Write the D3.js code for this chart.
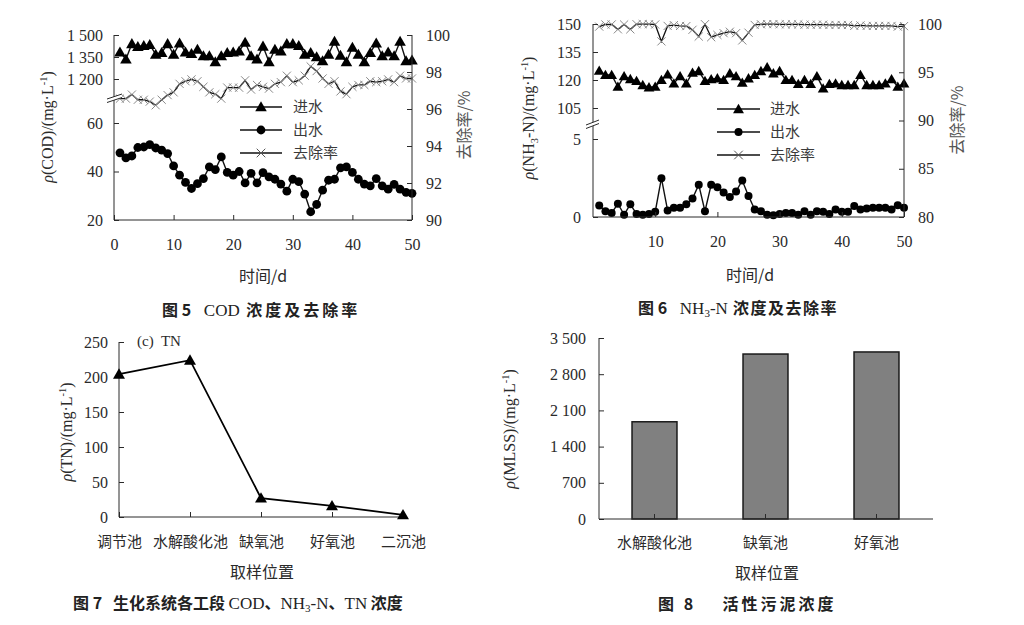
<!DOCTYPE html>
<html><head><meta charset="utf-8">
<script src="https://cdn.jsdelivr.net/npm/d3@7"></script>
<style>
body{margin:0;background:#fff;}
text{white-space:pre;}
</style></head><body>
<svg id="c" width="1024" height="625"></svg>
<script>
// ---------------- DATA ----------------
const days = d3.range(1, 51);
const codInfluent = [1383,1335,1440,1420,1427,1434,1368,1379,1440,1368,1445,1383,1372,1401,1357,1357,1317,1357,1379,1383,1390,1450,1357,1335,1423,1317,1401,1390,1440,1440,1427,1368,1379,1350,1324,1368,1456,1361,1317,1416,1368,1317,1379,1445,1357,1383,1357,1456,1324,1328];
const codEffluent = [47.7,45.6,46.4,49.9,50.1,51.1,49.7,48.8,47.4,42.3,38.5,35.5,33.0,35.0,37.1,41.9,40.8,46.0,39.6,38.5,40.0,35.3,39.2,35.3,39.5,37.8,36.8,34.8,31.9,36.8,35.8,30.7,23.4,26.4,32.3,36.4,36.8,41.5,41.9,39.6,36.8,34.8,34.1,37.1,34.1,32.7,34.7,32.7,31.4,31.0];
const codRemoval = [96.56,96.56,96.78,96.5,96.5,96.4,96.2,96.5,96.75,96.9,97.36,97.5,97.6,97.5,97.2,96.9,96.8,96.56,97.16,97.16,97.15,97.55,97.05,97.3,97.2,97.1,97.36,97.45,97.8,97.45,97.55,97.8,98.3,98.05,97.65,97.36,97.5,96.95,96.8,97.2,97.3,97.3,97.5,97.45,97.5,97.6,97.45,97.8,97.65,97.65];

const nhInfluent = [125,122.7,122.7,116.4,122.1,120.5,119.5,117.3,116.1,116.4,120,123,118.2,122.1,118.2,123.9,124.8,119.5,120.4,120.9,120,123.6,122.1,118.6,120.9,122.7,124.8,126.8,123.6,124.8,120,120,117.9,120,117.9,122.1,115.5,117.9,118.2,117.3,117.3,117.3,122.7,117.3,117.3,117.3,118.2,120.4,116.4,118.2];
const nhEffluent = [0.74,0.37,0.26,0.85,0.15,0.81,0.2,0.15,0.2,0.33,2.49,0.41,0.59,0.59,0.81,1.18,2.07,0.37,2.07,1.9,1.57,1.29,1.64,2.34,1.35,0.48,0.37,0.15,0.11,0.2,0.26,0.26,0.15,0.37,0.15,0.37,0.33,0.2,0.48,0.33,0.33,0.7,0.48,0.55,0.59,0.59,0.59,0.48,0.76,0.59];
const nhRemoval = [99.73,99.95,99.95,99.45,99.95,99.45,99.98,99.99,99.98,99.95,98.2,99.8,99.88,99.8,99.78,99.4,98.7,99.98,98.63,98.87,99.05,99.2,99.05,98.3,99.1,99.9,99.97,99.99,99.99,99.97,99.96,99.96,99.96,99.93,99.93,99.93,99.93,99.9,99.9,99.9,99.9,99.8,99.85,99.8,99.8,99.8,99.8,99.8,99.73,99.78];

const tnCategories = ["调节池","水解酸化池","缺氧池","好氧池","二沉池"];
const tnValues = [204,224,27,16,3];

const mlssCategories = ["水解酸化池","缺氧池","好氧池"];
const mlssValues = [1880,3190,3230];

const codTicksHigh = [1200,1350,1500];
const codTicksLow = [20,40,60];
const codTicksRight = [90,92,94,96,98,100];
const codTicksX = [0,10,20,30,40,50];
const nhTicksHigh = [105,120,135,150];
const nhTicksLow = [0,5];
const nhTicksRight = [80,85,90,95,100];
const nhTicksX = [10,20,30,40,50];
const tnTicks = [0,50,100,150,200,250];
const mlssTicks = [0,700,1400,2100,2800,3500];
const legendLabels = ["进水","出水","去除率"];

// ---------------- HELPERS ----------------
const SERIF = '"Liberation Serif","Times New Roman",serif';
const CJK = '"Noto Sans CJK SC","Noto Sans CJK JP",sans-serif';
const INK = "#2a2a2a";
const TICK_FS = 16;
const svg = d3.select("#c");
const fmt = d => d >= 1000 ? d3.format(",")(d).replace(",", " ") : String(d);

function styleAxis(g, size) {
  g.selectAll("path.domain").remove();
  g.selectAll(".tick line").attr("stroke", INK).attr("stroke-width", 1);
  g.selectAll("text").attr("font-family", SERIF).attr("font-size", size || TICK_FS).attr("fill", INK);
}
function rich(textSel, parts, fs) {
  parts.forEach(p => {
    const t = textSel.append("tspan").text(p.t);
    if (p.i) t.attr("font-style", "italic");
    if (p.cjk) t.attr("font-family", CJK);
    if (p.sub) t.attr("font-size", fs * 0.65).attr("dy", fs * 0.25);
    if (p.sup) t.attr("font-size", fs * 0.65).attr("dy", -fs * 0.4);
    if (p.back) t.attr("dy", p.back);
  });
}
function vline(x, y1, y2) {
  svg.append("line").attr("x1", x).attr("x2", x).attr("y1", y1).attr("y2", y2).attr("stroke", INK).attr("stroke-width", 1);
}
function hline(y, x1, x2) {
  svg.append("line").attr("x1", x1).attr("x2", x2).attr("y1", y).attr("y2", y).attr("stroke", INK).attr("stroke-width", 1);
}
const tri = s => d3.symbol(d3.symbolTriangle, s)();
const cross = s => d3.symbol(d3.symbolTimes, s)();

function seriesLine(g, xs, data, x, y, w) {
  g.append("path").datum(data.map((v, i) => [xs[i], v]))
    .attr("fill", "none").attr("stroke", "#111").attr("stroke-width", w)
    .attr("d", d3.line().x(d => x(d[0])).y(d => y(d[1])));
}
function triMarks(g, xs, data, x, y, s) {
  g.selectAll(null).data(data).enter().append("path").attr("d", tri(s))
    .attr("transform", (d, i) => `translate(${x(xs[i])},${y(d) + 1})`).attr("fill", "#000");
}
function dotMarks(g, xs, data, x, y, r) {
  g.selectAll(null).data(data).enter().append("circle")
    .attr("cx", (d, i) => x(xs[i])).attr("cy", d => y(d)).attr("r", r).attr("fill", "#000");
}
function crossMarks(g, xs, data, x, y, s) {
  g.selectAll(null).data(data).enter().append("path").attr("d", cross(s))
    .attr("transform", (d, i) => `translate(${x(xs[i])},${y(d)})`)
    .attr("fill", "none").attr("stroke", "#8a8a8a").attr("stroke-width", 1);
}
function legend(x0, x1, tx, ys, triS, dotR, crossS) {
  const g = svg.append("g");
  ys.forEach((yy, k) => {
    g.append("line").attr("x1", x0).attr("x2", x1).attr("y1", yy).attr("y2", yy).attr("stroke", "#111").attr("stroke-width", 1.4);
    const cxm = (x0 + x1) / 2;
    if (k === 0) g.append("path").attr("d", tri(triS)).attr("transform", `translate(${cxm},${yy + 1})`).attr("fill", "#000");
    if (k === 1) g.append("circle").attr("cx", cxm).attr("cy", yy).attr("r", dotR).attr("fill", "#000");
    if (k === 2) g.append("path").attr("d", cross(crossS)).attr("transform", `translate(${cxm},${yy})`).attr("fill", "none").attr("stroke", "#555").attr("stroke-width", 1);
    g.append("text").attr("x", tx).attr("y", yy).attr("dy", "0.36em").attr("font-family", CJK)
      .attr("font-size", 15).attr("fill", "#3a3a3a").text(legendLabels[k]);
  });
}
function breakMark(x1, y1, x2, y2, gap) {
  svg.append("polygon").attr("points", `${x1},${y1} ${x2},${y2} ${x2},${y2 + gap} ${x1},${y1 + gap}`).attr("fill", "#fff");
  [0, gap].forEach(o => svg.append("line").attr("x1", x1).attr("y1", y1 + o).attr("x2", x2).attr("y2", y2 + o).attr("stroke", INK).attr("stroke-width", 1));
}
function caption(x, y, parts) {
  const t = svg.append("text").attr("x", x).attr("y", y).attr("font-family", CJK).attr("font-weight", 700)
    .attr("font-size", 16).attr("fill", "#222");
  parts.forEach(p => {
    const s = t.append("tspan").text(p.t);
    if (p.serif) s.attr("font-family", SERIF).attr("font-weight", 400).attr("font-size", 17);
    if (p.sub) s.attr("font-size", 11).attr("dy", 3);
    if (p.back) s.attr("dy", p.back);
    if (p.ls) s.attr("letter-spacing", p.ls);
  });
}
function yLabel(x, y, parts, fs, color) {
  const t = svg.append("text").attr("transform", `translate(${x},${y}) rotate(-90)`).attr("text-anchor", "middle")
    .attr("font-family", SERIF).attr("font-size", fs).attr("fill", color || INK);
  rich(t, parts, fs);
}
function xLabel(x, y, txt) {
  svg.append("text").attr("x", x).attr("y", y).attr("text-anchor", "middle").attr("dy", "0.36em")
    .attr("font-family", CJK).attr("font-size", 16).attr("fill", INK).text(txt);
}

// ---------------- FIG 5 : COD ----------------
{
  const x = d3.scaleLinear().domain([0, 50]).range([114, 412]);
  const yLow = d3.scaleLinear().domain([20, 60]).range([220, 123]);
  const yHigh = d3.scaleLinear().domain([1200, 1500]).range([79, 35]);
  const yR = d3.scaleLinear().domain([90, 100]).range([220, 35]);
  const g = svg.append("g");
  styleAxis(svg.append("g").attr("transform", `translate(${x(0)},0)`).call(d3.axisLeft(yHigh).tickValues(codTicksHigh).tickFormat(fmt).tickSize(-5).tickPadding(11)));
  styleAxis(svg.append("g").attr("transform", `translate(${x(0)},0)`).call(d3.axisLeft(yLow).tickValues(codTicksLow).tickFormat(fmt).tickSize(-5).tickPadding(11)));
  styleAxis(svg.append("g").attr("transform", `translate(${x(50)},0)`).call(d3.axisRight(yR).tickValues(codTicksRight).tickFormat(fmt).tickSize(-5).tickPadding(14)));
  styleAxis(svg.append("g").attr("transform", `translate(0,${yLow(20)})`).call(d3.axisBottom(x).tickValues(codTicksX).tickFormat(fmt).tickSize(-5).tickPadding(19)));
  vline(x(0), yHigh(1500), yLow(20));
  vline(x(50), yR(100), yR(90));
  hline(yLow(20), x(0), x(50));
  breakMark(107, 99, 122, 94, 3.5);

  seriesLine(g, days, codRemoval, x, yR, 1.3);
  crossMarks(g, days, codRemoval, x, yR, 45);
  seriesLine(g, days, codInfluent, x, yHigh, 1.4);
  triMarks(g, days, codInfluent, x, yHigh, 58);
  seriesLine(g, days, codEffluent, x, yLow, 1.4);
  dotMarks(g, days, codEffluent, x, yLow, 4.4);

  legend(240, 282, 293, [107, 130, 153], 58, 4.4, 50);
  yLabel(53, 127, [{t: "ρ", i: 1}, {t: "(COD)/(mg·L"}, {t: "-1", sup: 1}, {t: ")", back: 6.4}], 16);
  const rt = svg.append("text").attr("transform", `translate(464,125) rotate(-90)`).attr("text-anchor", "middle")
    .attr("font-family", CJK).attr("font-size", 16).attr("fill", "#555").attr("dy", "0.36em");
  rich(rt, [{t: "去除率", cjk: 1}, {t: "/%"}], 16);
  xLabel(263, 276, "时间/d");
  caption(162, 316, [{t: "图 5"}, {t: "   COD", serif: 1}, {t: " 浓度及去除率", ls: 3}]);
}

// ---------------- FIG 6 : NH3-N ----------------
{
  const x = d3.scaleLinear().domain([0, 50]).range([593, 904]);
  const yLow = d3.scaleLinear().domain([0, 5]).range([217, 139]);
  const yHigh = d3.scaleLinear().domain([105, 150]).range([108, 24]);
  const yR = d3.scaleLinear().domain([80, 100]).range([217, 24]);
  const g = svg.append("g");
  styleAxis(svg.append("g").attr("transform", `translate(${x(0)},0)`).call(d3.axisLeft(yHigh).tickValues(nhTicksHigh).tickFormat(fmt).tickSize(-5).tickPadding(12)));
  styleAxis(svg.append("g").attr("transform", `translate(${x(0)},0)`).call(d3.axisLeft(yLow).tickValues(nhTicksLow).tickFormat(fmt).tickSize(-5).tickPadding(12)));
  styleAxis(svg.append("g").attr("transform", `translate(${x(50)},0)`).call(d3.axisRight(yR).tickValues(nhTicksRight).tickFormat(fmt).tickSize(-5).tickPadding(14)));
  styleAxis(svg.append("g").attr("transform", `translate(0,${yLow(0)})`).call(d3.axisBottom(x).tickValues(nhTicksX).tickFormat(fmt).tickSize(-5).tickPadding(19)));
  vline(x(0), yHigh(150), yLow(0));
  vline(x(50), yR(100), yR(80));
  hline(yLow(0), x(0), x(50));
  breakMark(586, 125, 599, 120, 3.5);

  seriesLine(g, days, nhRemoval, x, yR, 1.3);
  crossMarks(g, days, nhRemoval, x, yR, 45);
  seriesLine(g, days, nhInfluent, x, yHigh, 1.4);
  triMarks(g, days, nhInfluent, x, yHigh, 50);
  seriesLine(g, days, nhEffluent, x, yLow, 1.4);
  dotMarks(g, days, nhEffluent, x, yLow, 4);

  legend(717, 760, 770, [109, 132, 155], 52, 4, 50);
  yLabel(534, 118, [{t: "ρ", i: 1}, {t: "(NH"}, {t: "3", sub: 1}, {t: "-N)/(mg·L", back: -4}, {t: "-1", sup: 1}, {t: ")", back: 6.4}], 16);
  const rt = svg.append("text").attr("transform", `translate(957,120) rotate(-90)`).attr("text-anchor", "middle")
    .attr("font-family", CJK).attr("font-size", 16).attr("fill", "#555").attr("dy", "0.36em");
  rich(rt, [{t: "去除率", cjk: 1}, {t: "/%"}], 16);
  xLabel(750, 275, "时间/d");
  caption(638, 314, [{t: "图 6"}, {t: "   NH", serif: 1}, {t: "3", serif: 1, sub: 1}, {t: "-N", serif: 1, back: -3}, {t: " 浓度及去除率", ls: 1.5}]);
}

// ---------------- FIG 7 : TN ----------------
{
  const x = d3.scalePoint().domain(tnCategories).range([119, 403]);
  const y = d3.scaleLinear().domain([0, 250]).range([517, 342]);
  styleAxis(svg.append("g").attr("transform", `translate(${x(tnCategories[0])},0)`).call(d3.axisLeft(y).tickValues(tnTicks).tickFormat(fmt).tickSize(-5).tickPadding(11)));
  const xa = svg.append("g").attr("transform", `translate(0,${y(0)})`).call(d3.axisBottom(x).tickSize(-5).tickPadding(19));
  styleAxis(xa);
  xa.selectAll("text").attr("font-family", CJK).attr("font-size", 15);
  vline(x(tnCategories[0]), y(250), y(0));
  hline(y(0), x(tnCategories[0]), 407);
  const g = svg.append("g");
  g.append("path").datum(tnValues).attr("fill", "none").attr("stroke", "#000").attr("stroke-width", 1.8)
    .attr("d", d3.line().x((d, i) => x(tnCategories[i])).y(d => y(d)));
  g.selectAll(null).data(tnValues).enter().append("path").attr("d", tri(62))
    .attr("transform", (d, i) => `translate(${x(tnCategories[i])},${y(d) + 1})`).attr("fill", "#000");
  svg.append("text").attr("x", 137).attr("y", 346).attr("font-family", SERIF).attr("font-size", 15).attr("fill", INK)
    .text("(c)  TN");
  yLabel(72, 432, [{t: "ρ", i: 1}, {t: "(TN)/(mg·L"}, {t: "-1", sup: 1}, {t: ")", back: 6.4}], 16);
  xLabel(262, 572, "取样位置");
  caption(73, 609, [{t: "图 7"}, {t: "   生化系统各工段 "}, {t: "COD", serif: 1}, {t: "、"}, {t: "NH", serif: 1}, {t: "3", serif: 1, sub: 1}, {t: "-N", serif: 1, back: -3}, {t: "、"}, {t: "TN", serif: 1}, {t: " 浓度"}]);
}

// ---------------- FIG 8 : MLSS ----------------
{
  const x = d3.scaleBand().domain(mlssCategories).range([599, 932]).paddingInner(0.595).paddingOuter(0.2975);
  const y = d3.scaleLinear().domain([0, 3500]).range([519, 338]);
  svg.append("g").selectAll("rect").data(mlssValues).enter().append("rect")
    .attr("x", (d, i) => x(mlssCategories[i])).attr("width", x.bandwidth())
    .attr("y", d => y(d)).attr("height", d => y(0) - y(d))
    .attr("fill", "#808080").attr("stroke", "#1a1a1a").attr("stroke-width", 1.5);
  styleAxis(svg.append("g").attr("transform", `translate(599,0)`).call(d3.axisLeft(y).tickValues(mlssTicks).tickFormat(fmt).tickSize(-5).tickPadding(13)));
  const xa = svg.append("g").attr("transform", `translate(0,${y(0)})`).call(d3.axisBottom(x).tickSize(-5).tickPadding(18));
  styleAxis(xa);
  xa.selectAll("text").attr("font-family", CJK).attr("font-size", 15);
  vline(599, y(3500), y(0));
  hline(y(0), 599, 933);
  yLabel(515, 429, [{t: "ρ", i: 1}, {t: "(MLSS)/(mg·L"}, {t: "-1", sup: 1}, {t: ")", back: 6.4}], 16);
  xLabel(767, 573, "取样位置");
  caption(658, 610, [{t: "图 8", ls: 3}, {t: "    活性污泥浓度", ls: 3}]);
}
</script>
</body></html>
